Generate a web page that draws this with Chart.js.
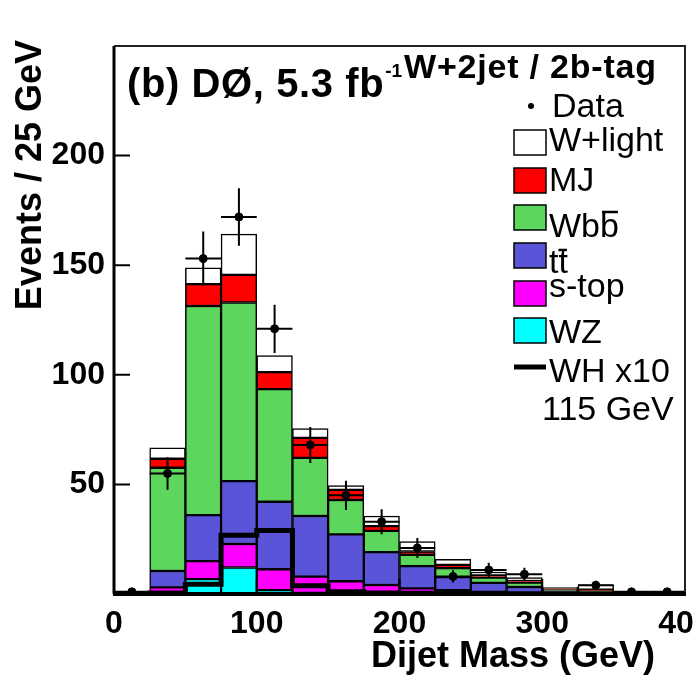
<!DOCTYPE html>
<html lang="en">
<head>
  <meta charset="UTF-8">
  <title>Dijet Mass - W+2jet / 2b-tag</title>
  <script src="https://cdn.jsdelivr.net/npm/chart.js"></script>
  <style>
    body {
      margin: 0;
      background: #fff;
    }
    .wrap {
      width: 694px;
      height: 678px;
    }
  </style>
</head>
<body>
  <div class="wrap">
    <canvas id="massChart" width="694" height="678"></canvas>
  </div>

  <script>
    // dijet mass bins, 25 GeV wide
    const binCenters = [12.5, 37.5, 62.5, 87.5, 112.5, 137.5, 162.5, 187.5, 212.5, 237.5, 262.5, 287.5, 312.5, 337.5, 362.5, 387.5];
    const binEdges = [0, 25, 50, 75, 100, 125, 150, 175, 200, 225, 250, 275, 300, 325, 350, 375, 400];

    // backgrounds, bottom of the stack first
    const wz     = [0, 0.3, 6.8, 12.1, 1.8, 0.5, 0.2, 0.1, 0, 0, 0, 0, 0, 0, 0, 0];
    const sTop   = [0, 2.7, 8.2, 10.7, 9.5, 7.4, 5.6, 4.0, 2.6, 1.8, 1.0, 0.6, 0.3, 0.2, 0, 0];
    const ttbar  = [0, 7.5, 21.0, 28.7, 30.8, 27.7, 21.4, 15.0, 10.1, 5.9, 4.1, 2.6, 1.2, 0.8, 0.1, 0.1];
    const wbb    = [0, 47.1, 95.4, 81.5, 51.4, 26.5, 15.7, 9.7, 5.2, 4.1, 2.4, 2.0, 0.5, 0.5, 0.1, 0];
    const mj     = [0, 4.1, 10.0, 12.6, 7.7, 9.1, 4.6, 2.2, 1.5, 1.5, 1.0, 0.8, 0.5, 0.5, 0.1, 0.1];
    const wLight = [0, 5.0, 7.4, 18.6, 7.6, 4.3, 2.0, 4.6, 4.5, 2.5, 1.5, 1.5, 0.5, 2.2, 0.2, 0.1];

    // signal WH (115 GeV) x10
    const whX10 = [0, 0.5, 4.4, 26.8, 29.0, 3.8, 1.0, 0.5, 0.3, 0.2, 0.1, 0, 0, 0, 0, 0];

    // data
    const dataCounts = [1, 55, 153, 172, 121, 68, 45, 33, 21, 8, 11, 9, null, 4, 1, 1];
    const dataErr    = [1, 7.4, 12.4, 13.1, 11, 8.2, 6.7, 5.7, 4.6, 2.8, 3.3, 3, 0, 2, 1, 1];

    const yTicks = [50, 100, 150, 200];

    const FONT = "'Liberation Sans', Arial, Helvetica, sans-serif";

    function stackBar(label, values, color, order) {
      return {
        type: 'bar',
        label: label,
        data: binCenters.map((x, i) => ({ x: x, y: values[i] })),
        backgroundColor: color,
        borderColor: '#000',
        borderWidth: 1.5,
        borderSkipped: false,
        barPercentage: 1,
        categoryPercentage: 1,
        stack: 'mc',
        order: order
      };
    }

    // ROOT style frame, inward ticks, error bars, legend and labels
    const rootStyle = {
      id: 'rootStyle',
      afterDatasetsDraw(chart) {
        const ctx = chart.ctx;
        const x = chart.scales.x, y = chart.scales.y;
        ctx.save();
        ctx.strokeStyle = '#000';
        ctx.lineWidth = 2;
        dataCounts.forEach((v, i) => {
          if (v === null) return;
          const cx = x.getPixelForValue(binCenters[i]);
          const cy = y.getPixelForValue(v);
          ctx.beginPath();
          ctx.moveTo(x.getPixelForValue(binEdges[i]), cy);
          ctx.lineTo(x.getPixelForValue(binEdges[i + 1]), cy);
          ctx.moveTo(cx, y.getPixelForValue(v + dataErr[i]));
          ctx.lineTo(cx, y.getPixelForValue(Math.max(0, v - dataErr[i])));
          ctx.stroke();
        });
        ctx.restore();
      },
      afterDraw(chart) {
        const ctx = chart.ctx;
        const a = chart.chartArea;
        const x = chart.scales.x, y = chart.scales.y;
        ctx.save();

        // frame
        ctx.strokeStyle = '#222';
        ctx.lineWidth = 2;
        ctx.beginPath();
        ctx.moveTo(a.left, a.top);
        ctx.lineTo(a.right, a.top);
        ctx.lineTo(a.right, a.bottom);
        ctx.stroke();
        ctx.strokeStyle = '#000';
        ctx.lineWidth = 3;
        ctx.beginPath();
        ctx.moveTo(a.left, a.top);
        ctx.lineTo(a.left, a.bottom);
        ctx.stroke();
        ctx.lineWidth = 4;
        ctx.beginPath();
        ctx.moveTo(a.left - 1, a.bottom);
        ctx.lineTo(a.right + 1, a.bottom);
        ctx.stroke();

        // inward ticks
        ctx.lineWidth = 2;
        ctx.beginPath();
        yTicks.forEach(v => {
          const py = y.getPixelForValue(v);
          ctx.moveTo(a.left, py);
          ctx.lineTo(a.left + 16, py);
        });
        [100, 200, 300].forEach(v => {
          const px = x.getPixelForValue(v);
          ctx.moveTo(px, a.bottom);
          ctx.lineTo(px, a.bottom - 15);
        });
        ctx.stroke();

        ctx.fillStyle = '#000';
        ctx.textBaseline = 'alphabetic';

        // axis titles
        ctx.font = 'bold 36px ' + FONT;
        ctx.textAlign = 'right';
        ctx.fillText('Dijet Mass (GeV)', 655, 667);
        ctx.save();
        ctx.translate(41, 40);
        ctx.rotate(-Math.PI / 2);
        ctx.fillText('Events / 25 GeV', 0, 0);
        ctx.restore();

        // titles
        ctx.textAlign = 'left';
        ctx.font = 'bold 40px ' + FONT;
        ctx.letterSpacing = '0.6px';
        ctx.fillText('(b) DØ, 5.3 fb', 127, 97);
        const w = ctx.measureText('(b) DØ, 5.3 fb').width;
        ctx.letterSpacing = '0px';
        ctx.font = 'bold 19px ' + FONT;
        ctx.fillText('-1', 127 + w + 1, 77);
        ctx.font = 'bold 34px ' + FONT;
        ctx.letterSpacing = '0.8px';
        ctx.fillText('W+2jet / 2b-tag', 404, 78);
        ctx.letterSpacing = '0px';

        // legend
        const bx = 514, bw = 32, bh = 25;
        ctx.font = '34px ' + FONT;
        ctx.beginPath();
        ctx.arc(531, 106, 3, 0, Math.PI * 2);
        ctx.fill();
        ctx.fillText('Data', 552, 117);

        const boxes = [
          ['W+light', '#ffffff', 130, 151],
          ['MJ', '#ff0000', 168, 191],
          ['Wbb', '#5cd65c', 205, 237],
          ['tt', '#5a55d8', 243, 273],
          ['s-top', '#ff00ff', 281, 297],
          ['WZ', '#00ffff', 318, 343]
        ];
        ctx.lineWidth = 1.5;
        boxes.forEach(([label, color, top, base]) => {
          ctx.fillStyle = color;
          ctx.fillRect(bx, top, bw, bh);
          ctx.strokeStyle = '#000';
          ctx.strokeRect(bx, top, bw, bh);
          ctx.fillStyle = '#000';
          ctx.fillText(label, 549, base);
        });
        // overbars for b-bar and t-bar
        ctx.lineWidth = 2.5;
        ctx.beginPath();
        const wx = 549 + ctx.measureText('Wb').width;
        ctx.moveTo(wx + 2, 212);
        ctx.lineTo(wx + ctx.measureText('b').width - 1, 212);
        const tx = 549 + ctx.measureText('t').width;
        ctx.moveTo(tx, 250);
        ctx.lineTo(tx + ctx.measureText('t').width - 1, 250);
        ctx.stroke();

        ctx.lineWidth = 5;
        ctx.beginPath();
        ctx.moveTo(bx, 367);
        ctx.lineTo(bx + bw, 367);
        ctx.stroke();
        ctx.fillText('WH x10', 549, 382);
        ctx.fillText('115 GeV', 542, 420);

        ctx.restore();
      }
    };

    const ctx = document.getElementById('massChart').getContext('2d');
    const massChart = new Chart(ctx, {
      data: {
        datasets: [
          {
            type: 'line',
            label: 'Data',
            data: binCenters.map((x, i) => ({ x: x, y: dataCounts[i] })),
            showLine: false,
            pointRadius: 4,
            pointBackgroundColor: '#000',
            pointBorderColor: '#000',
            stack: 'data',
            order: 0
          },
          {
            type: 'line',
            label: 'WH x10 115 GeV',
            data: binEdges.map((x, i) => ({ x: x, y: whX10[Math.min(i, whX10.length - 1)] })),
            stepped: 'before',
            borderColor: '#000',
            borderWidth: 5,
            pointRadius: 0,
            fill: false,
            stack: 'wh',
            order: 1
          },
          stackBar('WZ', wz, '#00ffff', 10),
          stackBar('s-top', sTop, '#ff00ff', 11),
          stackBar('tt', ttbar, '#5a55d8', 12),
          stackBar('Wbb', wbb, '#5cd65c', 13),
          stackBar('MJ', mj, '#ff0000', 14),
          stackBar('W+light', wLight, '#ffffff', 15)
        ]
      },
      options: {
        responsive: false,
        animation: false,
        devicePixelRatio: 1,
        layout: {
          padding: { left: 0, right: 9, top: 46, bottom: 0 }
        },
        plugins: {
          legend: { display: false },
          tooltip: { enabled: false }
        },
        scales: {
          x: {
            type: 'linear',
            offset: false,
            min: 0,
            max: 400,
            grid: { display: false, drawTicks: false },
            border: { display: false },
            ticks: {
              stepSize: 100,
              color: '#000',
              padding: 11,
              font: { family: FONT, size: 32, weight: 'bold' },
              maxRotation: 0
            },
            afterFit(scale) {
              scale.height = 84;
              scale.paddingLeft = 0;
              scale.paddingRight = 0;
            }
          },
          y: {
            stacked: true,
            min: 0,
            max: 250,
            grid: { display: false, drawTicks: false },
            border: { display: false },
            ticks: {
              stepSize: 50,
              color: '#000',
              padding: 9,
              font: { family: FONT, size: 32, weight: 'bold' },
              callback: v => (yTicks.includes(v) ? v : '')
            },
            afterFit(scale) {
              scale.width = 114;
              scale.paddingTop = 0;
              scale.paddingBottom = 0;
            }
          }
        }
      },
      plugins: [rootStyle]
    });
  </script>
</body>
</html>
